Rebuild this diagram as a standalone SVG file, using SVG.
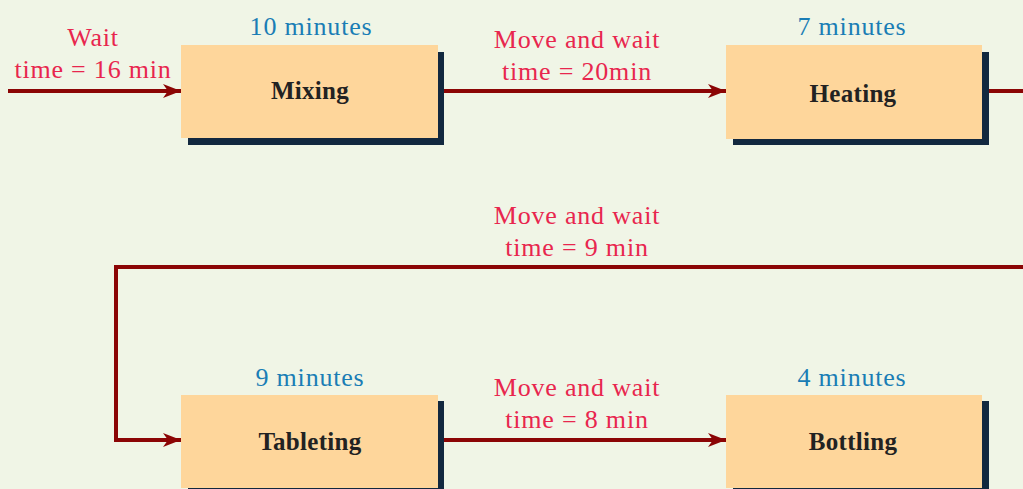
<svg xmlns="http://www.w3.org/2000/svg" width="1023" height="489" viewBox="0 0 1023 489">
<style>
.bg{fill:#F0F5E6}
.face{fill:#FED69B}
.shadow{fill:#12283F}
.lbl{font-family:"Liberation Serif",serif;font-weight:bold;font-size:25px;fill:#222;text-anchor:middle;letter-spacing:0.3px}
.dur{font-family:"Liberation Serif",serif;font-size:26px;fill:#1A7DB5;text-anchor:middle;letter-spacing:0.8px}
.wait{font-family:"Liberation Serif",serif;font-size:26px;fill:#E8264E;text-anchor:middle;letter-spacing:0.8px}
.conn{fill:none;stroke:#8B0505;stroke-width:4}
</style>
<defs>
<marker id="ah" viewBox="0 0 18 14" refX="18" refY="7" markerWidth="18" markerHeight="14" markerUnits="userSpaceOnUse" orient="auto">
<path d="M0,0 L18,7 L0,14 L5,7 z" fill="#8B0505"/>
</marker>
</defs>
<rect class="bg" x="0" y="0" width="1023" height="489"/>
<g id="connectors">
<path class="conn" d="M8,91 H181" marker-end="url(#ah)"/>
<path class="conn" d="M444,91 H726" marker-end="url(#ah)"/>
<path class="conn" d="M988,91 H1023"/>
<path class="conn" d="M1023,267 H116 V440 H181" marker-end="url(#ah)"/>
<path class="conn" d="M444,440 H726" marker-end="url(#ah)"/>
<text class="wait" x="93" y="46">Wait</text>
<text class="wait" x="93" y="78">time = 16 min</text>
<text class="wait" x="577" y="48">Move and wait</text>
<text class="wait" x="577" y="80">time = 20min</text>
<text class="wait" x="577" y="224">Move and wait</text>
<text class="wait" x="577" y="256">time = 9 min</text>
<text class="wait" x="577" y="396">Move and wait</text>
<text class="wait" x="577" y="428">time = 8 min</text>
</g>
<g id="mixing">
<rect class="shadow" x="188" y="52" width="256" height="93"/>
<rect class="face" x="181" y="45" width="257" height="93"/>
<text class="dur" x="311" y="35">10 minutes</text>
<text class="lbl" x="310" y="99">Mixing</text>
</g>
<g id="heating">
<rect class="shadow" x="733" y="52" width="256" height="93"/>
<rect class="face" x="726" y="45" width="256" height="94"/>
<text class="dur" x="852" y="35">7 minutes</text>
<text class="lbl" x="853" y="102">Heating</text>
</g>
<g id="tableting">
<rect class="shadow" x="188" y="401" width="256" height="100"/>
<rect class="face" x="181" y="395" width="257" height="93"/>
<text class="dur" x="310" y="386">9 minutes</text>
<text class="lbl" x="310" y="450">Tableting</text>
</g>
<g id="bottling">
<rect class="shadow" x="733" y="401" width="256" height="100"/>
<rect class="face" x="726" y="395" width="256" height="93"/>
<text class="dur" x="852" y="386">4 minutes</text>
<text class="lbl" x="853" y="450">Bottling</text>
</g>
</svg>
